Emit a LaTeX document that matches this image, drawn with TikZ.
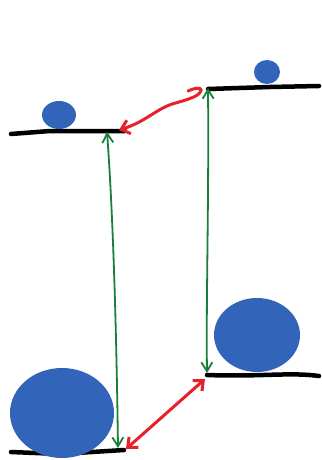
\documentclass[tikz,border=0pt]{standalone}
\usetikzlibrary{arrows.meta}
\definecolor{blobblue}{HTML}{3265BA}
\definecolor{arrgreen}{HTML}{1A7F3A}
\definecolor{arrred}{HTML}{E8202A}
\tikzset{
  level/.style={line width=4.5pt, line cap=round, black},
  garrow/.style={arrgreen, line width=1.8pt, {Straight Barb[length=9pt,width=11pt]}-{Straight Barb[length=9pt,width=11pt]}},
  rarrow/.style={arrred, line width=3pt, line cap=round},
}
\begin{document}
\begin{tikzpicture}[x=1pt,y=-1pt]
\useasboundingbox (0,0) rectangle (321,460);
% levels
\coordinate (tl1) at (11,134); \coordinate (tl2) at (125,131);
\coordinate (tr1) at (208,89); \coordinate (tr2) at (319,86);
\coordinate (bl1) at (11,452); \coordinate (bl2) at (124,450);
\coordinate (br1) at (207,375); \coordinate (br2) at (319,376);
\draw[level] (tl1) -- (50,131) -- (tl2);
\draw[level] (tr1) -- (270,87) -- (tr2);
\draw[level] (bl1) -- (60,454) -- (bl2);
\draw[level] (br1) .. controls (260,377) and (290,372) .. (br2);
% blobs
\fill[blobblue] (59,115) ellipse [x radius=17, y radius=14];
\fill[blobblue] (267,72) ellipse [x radius=13, y radius=12];
\fill[blobblue] (62,413) ellipse [x radius=52, y radius=45];
\fill[blobblue] (257,335) ellipse [x radius=43, y radius=37];
% green arrows
\coordinate (g1a) at (107,132); \coordinate (g1b) at (118,448);
\coordinate (g2a) at (208,88); \coordinate (g2b) at (207,373);
\draw[garrow] (g1a) .. controls (112,200) and (116,300) .. (g1b);
\draw[garrow] (g2a) .. controls (209,200) and (206,300) .. (g2b);
% red arrows
\coordinate (r1a) at (119,130); \coordinate (r1b) at (188,91);
\draw[rarrow, {Straight Barb[length=8pt,width=14pt]}-] (r1a) .. controls (145,122) and (155,110) .. (172,104) .. controls (190,99) and (200,96) .. (201,90) .. controls (201,87) and (194,88) .. (r1b);
\coordinate (r2a) at (126,449); \coordinate (r2b) at (205,379);
\draw[rarrow, {Straight Barb[length=8pt,width=14pt]}-{Straight Barb[length=8pt,width=14pt]}] (r2a) -- (r2b);
\end{tikzpicture}
\end{document}
